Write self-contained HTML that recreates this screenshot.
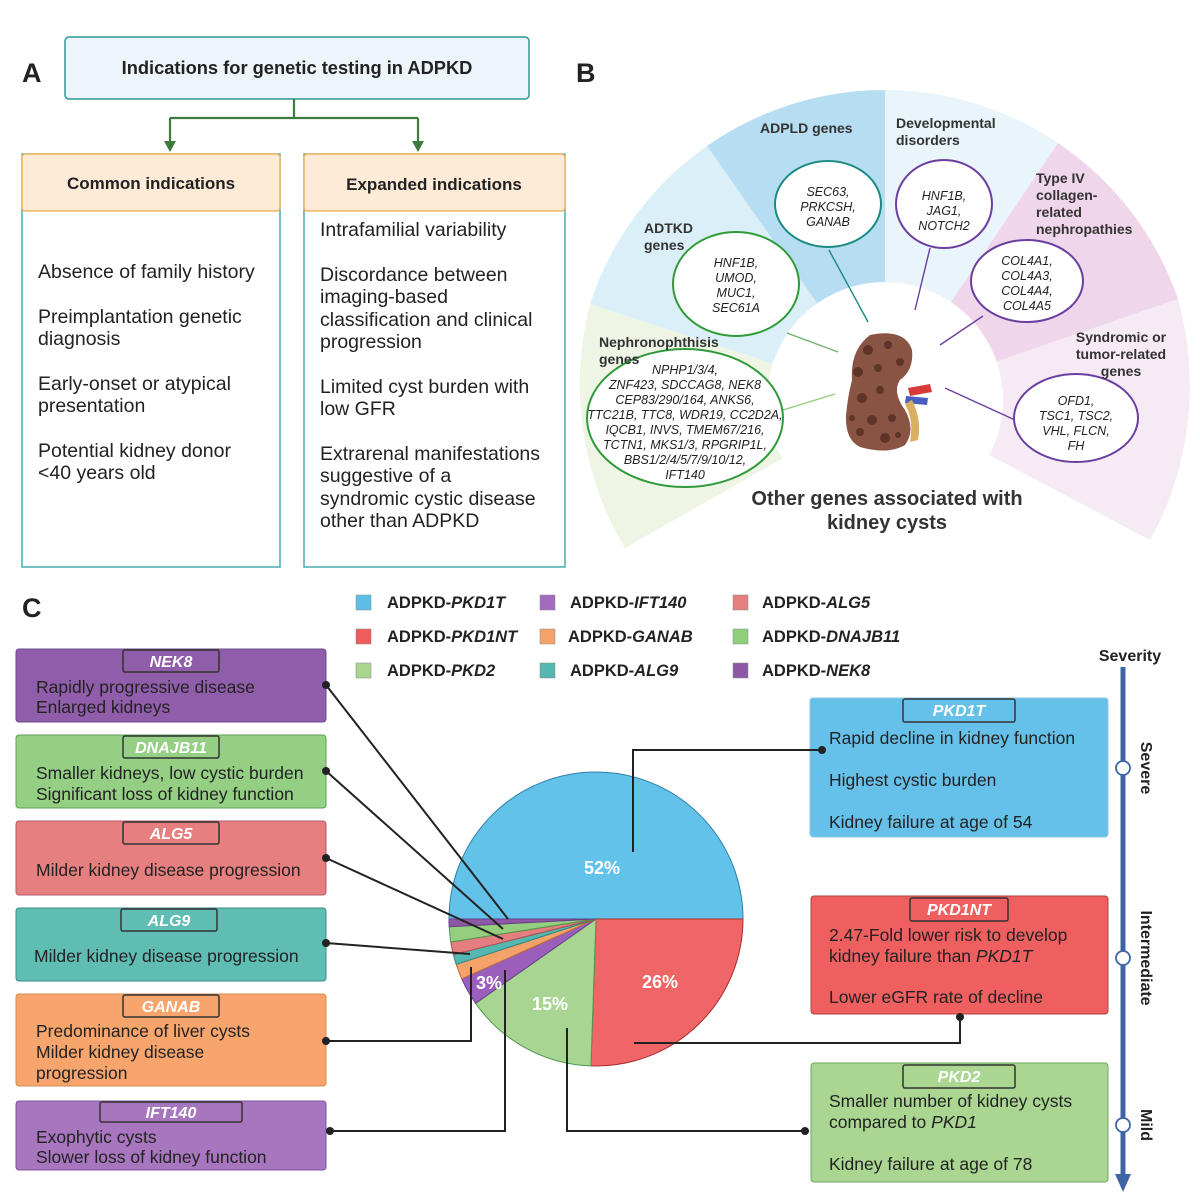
<!DOCTYPE html>
<html><head><meta charset="utf-8"><style>
html,body{margin:0;padding:0;background:#fff}
svg{display:block;font-family:"Liberation Sans",Arial,sans-serif}
.b{font-weight:bold}
.t{font-size:17.5px;fill:#222}
.a{font-size:19.5px;fill:#222}
.g{font-size:12.5px;font-style:italic;fill:#222}
.h{font-size:14px;font-weight:bold;fill:#333}
.tab{font-size:16px;font-weight:bold;font-style:italic;fill:#fff}
.lg{font-size:16.5px;font-weight:bold;fill:#222}
</style></head><body>
<svg width="1200" height="1194" viewBox="0 0 1200 1194" xmlns="http://www.w3.org/2000/svg">
<!-- Section A -->
<text x="22" y="82" font-size="27" class="b" fill="#222">A</text>
<rect x="65" y="37" width="464" height="62" rx="4" fill="#edf5fb" stroke="#2a9a8f" stroke-width="1.5"/>
<text x="297" y="74" font-size="18.3" class="b" fill="#222" text-anchor="middle">Indications for genetic testing in ADPKD</text>
<g stroke="#3c7a3f" stroke-width="2.2" fill="none">
<path d="M294,99 V118 M170,118 H418 M170,118 V142 M418,118 V142"/>
</g>
<path d="M164,141 L176,141 L170,152 Z M412,141 L424,141 L418,152 Z" fill="#3c7a3f"/>
<rect x="22" y="154" width="258" height="413" fill="#fff" stroke="#2aa0a8" stroke-width="1.3"/>
<rect x="22" y="154" width="258" height="57" rx="3" fill="#fdebd8" stroke="#f4a74a" stroke-width="1.3"/>
<text x="151" y="189" font-size="17" class="b" fill="#222" text-anchor="middle">Common indications</text>
<rect x="304" y="154" width="261" height="413" fill="#fff" stroke="#2aa0a8" stroke-width="1.3"/>
<rect x="304" y="154" width="261" height="57" rx="3" fill="#fdebd8" stroke="#f4a74a" stroke-width="1.3"/>
<text x="434" y="190" font-size="17" class="b" fill="#222" text-anchor="middle">Expanded indications</text>
<g class="a">
<text x="38" y="278">Absence of family history</text>
<text x="38" y="323">Preimplantation genetic</text>
<text x="38" y="345">diagnosis</text>
<text x="38" y="390">Early-onset or atypical</text>
<text x="38" y="412">presentation</text>
<text x="38" y="457">Potential  kidney donor</text>
<text x="38" y="479">&lt;40 years old</text>
<text x="320" y="236">Intrafamilial variability</text>
<text x="320" y="281">Discordance between</text>
<text x="320" y="303">imaging-based</text>
<text x="320" y="326">classification and clinical</text>
<text x="320" y="348">progression</text>
<text x="320" y="393">Limited cyst burden with</text>
<text x="320" y="415">low GFR</text>
<text x="320" y="460">Extrarenal manifestations</text>
<text x="320" y="482">suggestive of a</text>
<text x="320" y="505">syndromic cystic disease</text>
<text x="320" y="527">other than ADPKD</text>
</g>

<!-- Section B -->
<text x="576" y="82" font-size="27" class="b" fill="#222">B</text>
<path d="M885,400 L625,548 A300,310 0 0 1 590,304 Z" fill="#eef5e5"/>
<path d="M885,400 L590,304 A310,310 0 0 1 707,146 Z" fill="#daeff7"/>
<path d="M885,400 L707,146 A310,310 0 0 1 885,90 Z" fill="#b7ddf2"/>
<path d="M885,400 L885,90 A310,310 0 0 1 1058,143 Z" fill="#e9f4fb"/>
<path d="M885,400 L1058,143 A310,310 0 0 1 1178,299 Z" fill="#efd6ea"/>
<path d="M885,400 L1178,299 A300,310 0 0 1 1150,540 Z" fill="#f6eaf5"/>
<circle cx="885" cy="400" r="118" fill="#fff"/>
<g stroke-width="1.4" fill="none">
<line x1="829" y1="250" x2="868" y2="322" stroke="#1b8a80"/>
<line x1="930" y1="248" x2="915" y2="310" stroke="#6a3fa0"/>
<line x1="787" y1="333" x2="838" y2="352" stroke="#6fb36a"/>
<line x1="983" y1="316" x2="940" y2="345" stroke="#6a3fa0"/>
<line x1="783" y1="410" x2="835" y2="394" stroke="#8fcf7c"/>
<line x1="1015" y1="420" x2="945" y2="388" stroke="#6a3fa0"/>
</g>
<g fill="#fff" stroke-width="2">
<ellipse cx="828" cy="204" rx="53" ry="43" stroke="#1b8a80"/>
<ellipse cx="944" cy="204" rx="48" ry="44" stroke="#6a3fa0"/>
<ellipse cx="736" cy="284" rx="63" ry="52" stroke="#2f9a3a"/>
<ellipse cx="1027" cy="281" rx="56" ry="41" stroke="#6a3fa0"/>
<ellipse cx="685" cy="418" rx="98" ry="69" stroke="#2f9a3a"/>
<ellipse cx="1076" cy="418" rx="62" ry="44" stroke="#6a3fa0"/>
</g>
<!-- kidney -->
<path d="M908,388 L930,384 L932,392 L910,396 Z" fill="#d83a3a"/>
<path d="M906,396 L928,398 L927,405 L905,403 Z" fill="#4a5fc0"/>
<path d="M912,400 Q922,420 918,440 L910,442 Q914,420 905,404 Z" fill="#d9b060"/>
<path d="M870,335 Q905,328 912,350 Q914,370 900,380 Q892,392 905,410 Q916,430 905,445 Q888,455 860,447 Q845,440 846,415 Q848,395 852,380 Q850,350 870,335 Z" fill="#8a5444"/>
<g fill="#5e3328">
<circle cx="868" cy="350" r="5"/><circle cx="888" cy="345" r="4"/><circle cx="900" cy="362" r="4"/><circle cx="858" cy="372" r="5"/><circle cx="878" cy="368" r="4"/><circle cx="862" cy="398" r="5"/><circle cx="880" cy="390" r="4"/><circle cx="872" cy="420" r="5"/><circle cx="892" cy="418" r="4"/><circle cx="860" cy="432" r="4"/><circle cx="885" cy="438" r="5"/><circle cx="898" cy="435" r="3"/><circle cx="852" cy="418" r="3"/>
</g>
<g class="h">
<text x="760" y="133">ADPLD genes</text>
<text x="896" y="128">Developmental</text><text x="896" y="145">disorders</text>
<text x="644" y="233">ADTKD</text><text x="644" y="250">genes</text>
<text x="1036" y="183">Type IV</text><text x="1036" y="200">collagen-</text><text x="1036" y="217">related</text><text x="1036" y="234">nephropathies</text>
<text x="1121" y="342" text-anchor="middle">Syndromic or</text><text x="1121" y="359" text-anchor="middle">tumor-related</text><text x="1121" y="376" text-anchor="middle">genes</text>
<text x="599" y="347">Nephronophthisis</text><text x="599" y="364">genes</text>
</g>
<g class="g" text-anchor="middle">
<text x="828" y="196">SEC63,</text><text x="828" y="211">PRKCSH,</text><text x="828" y="226">GANAB</text>
<text x="944" y="200">HNF1B,</text><text x="944" y="215">JAG1,</text><text x="944" y="230">NOTCH2</text>
<text x="736" y="267">HNF1B,</text><text x="736" y="282">UMOD,</text><text x="736" y="297">MUC1,</text><text x="736" y="312">SEC61A</text>
<text x="1027" y="265">COL4A1,</text><text x="1027" y="280">COL4A3,</text><text x="1027" y="295">COL4A4,</text><text x="1027" y="310">COL4A5</text>
<text x="1076" y="405">OFD1,</text><text x="1076" y="420">TSC1, TSC2,</text><text x="1076" y="435">VHL, FLCN,</text><text x="1076" y="450">FH</text>
<text x="685" y="374">NPHP1/3/4,</text><text x="685" y="389">ZNF423, SDCCAG8, NEK8</text><text x="685" y="404">CEP83/290/164,  ANKS6,</text><text x="685" y="419">TTC21B, TTC8, WDR19, CC2D2A,</text><text x="685" y="434">IQCB1, INVS, TMEM67/216,</text><text x="685" y="449">TCTN1,  MKS1/3, RPGRIP1L,</text><text x="685" y="464">BBS1/2/4/5/7/9/10/12,</text><text x="685" y="479">IFT140</text>
</g>
<text x="887" y="505" font-size="20" class="b" fill="#333" text-anchor="middle">Other genes associated with</text>
<text x="887" y="529" font-size="20" class="b" fill="#333" text-anchor="middle">kidney cysts</text>

<!-- Section C -->
<text x="22" y="617" font-size="27" class="b" fill="#222">C</text>
<g stroke="#888" stroke-width="0.5">
<rect x="356" y="595" width="15" height="15" fill="#5bbde8"/>
<rect x="356" y="629" width="15" height="15" fill="#ef5c5c"/>
<rect x="356" y="663" width="15" height="15" fill="#a8d68f"/>
<rect x="540" y="595" width="15" height="15" fill="#a36bc0"/>
<rect x="540" y="629" width="15" height="15" fill="#f5a26a"/>
<rect x="540" y="663" width="15" height="15" fill="#55b8b0"/>
<rect x="733" y="595" width="15" height="15" fill="#e57f7f"/>
<rect x="733" y="629" width="15" height="15" fill="#8fcf7c"/>
<rect x="733" y="663" width="15" height="15" fill="#8d58a6"/>
</g>
<g class="lg">
<text x="387" y="608">ADPKD-<tspan font-style="italic">PKD1T</tspan></text>
<text x="387" y="642">ADPKD-<tspan font-style="italic">PKD1NT</tspan></text>
<text x="387" y="676">ADPKD-<tspan font-style="italic">PKD2</tspan></text>
<text x="570" y="608">ADPKD-<tspan font-style="italic">IFT140</tspan></text>
<text x="568" y="642">ADPKD-<tspan font-style="italic">GANAB</tspan></text>
<text x="570" y="676">ADPKD-<tspan font-style="italic">ALG9</tspan></text>
<text x="762" y="608">ADPKD-<tspan font-style="italic">ALG5</tspan></text>
<text x="762" y="642">ADPKD-<tspan font-style="italic">DNAJB11</tspan></text>
<text x="762" y="676">ADPKD-<tspan font-style="italic">NEK8</tspan></text>
</g>

<!-- pie -->
<g stroke-width="1">
<path d="M596,919 L449,919 A147,147 0 0 1 743,919 Z" fill="#63c2ea" stroke="#2c7fa8"/>
<path d="M596,919 L743,919 A147,147 0 0 1 590.9,1065.9 Z" fill="#f06565" stroke="#a83030"/>
<path d="M596,919 L590.9,1065.9 A147,147 0 0 1 475.6,1003.3 Z" fill="#a8d692" stroke="#4c9a4c"/>
<path d="M596,919 L475.6,1003.3 A147,147 0 0 1 461.7,978.8 Z" fill="#9b5fbb" stroke="#6a3f8a"/>
<path d="M596,919 L461.7,978.8 A147,147 0 0 1 456.2,964.4 Z" fill="#f5a26a" stroke="#c07030"/>
<path d="M596,919 L456.2,964.4 A147,147 0 0 1 453.4,954.6 Z" fill="#55b8b0" stroke="#2c8a84"/>
<path d="M596,919 L453.4,954.6 A147,147 0 0 1 450.8,942 Z" fill="#e57f7f" stroke="#b04c4c"/>
<path d="M596,919 L450.8,942 A147,147 0 0 1 449.2,926.7 Z" fill="#96ce80" stroke="#4c9a4c"/>
<path d="M596,919 L449.2,926.7 A147,147 0 0 1 449,919 Z" fill="#8d58a6" stroke="#6a3f8a"/>
</g>
<g font-size="18" class="b" fill="#fff" text-anchor="middle">
<text x="602" y="874">52%</text><text x="660" y="988">26%</text><text x="550" y="1010">15%</text><text x="489" y="989">3%</text>
</g>

<!-- left boxes -->
<g stroke-width="1">
<rect x="16" y="649" width="310" height="73" rx="3" fill="#8f5da9" stroke="#6d4a8a"/>
<rect x="16" y="735" width="310" height="73" rx="3" fill="#94cf84" stroke="#5f9f5a"/>
<rect x="16" y="821" width="310" height="74" rx="3" fill="#e57f80" stroke="#b75a6a"/>
<rect x="16" y="908" width="310" height="73" rx="3" fill="#5fbdb4" stroke="#3a8a8a"/>
<rect x="16" y="994" width="310" height="92" rx="3" fill="#f7a56d" stroke="#d58a50"/>
<rect x="16" y="1101" width="310" height="69" rx="3" fill="#a776bf" stroke="#7d559a"/>
</g>
<g fill="none" stroke="#333" stroke-width="1.5">
<rect x="123" y="650" width="96" height="22" rx="2"/>
<rect x="123" y="736" width="96" height="22" rx="2"/>
<rect x="123" y="822" width="96" height="22" rx="2"/>
<rect x="121" y="909" width="96" height="22" rx="2"/>
<rect x="123" y="995" width="96" height="22" rx="2"/>
<rect x="100" y="1102" width="142" height="20" rx="2"/>
</g>
<g class="tab" text-anchor="middle">
<text x="171" y="667">NEK8</text><text x="171" y="753">DNAJB11</text><text x="171" y="839">ALG5</text><text x="169" y="926">ALG9</text><text x="171" y="1012">GANAB</text><text x="171" y="1118">IFT140</text>
</g>
<g class="t" font-size="17">
<text x="36" y="693">Rapidly progressive disease</text><text x="36" y="713">Enlarged kidneys</text>
<text x="36" y="779">Smaller kidneys, low cystic burden</text><text x="36" y="800">Significant loss of kidney function</text>
<text x="36" y="876">Milder kidney disease progression</text>
<text x="34" y="962">Milder kidney disease progression</text>
<text x="36" y="1037">Predominance of liver cysts</text><text x="36" y="1058">Milder kidney disease</text><text x="36" y="1079">progression</text>
<text x="36" y="1143">Exophytic cysts</text><text x="36" y="1163">Slower loss of kidney function</text>
</g>

<!-- right boxes -->
<rect x="810" y="698" width="298" height="139" rx="3" fill="#65c1ea" stroke="#8fc8e0"/>
<rect x="811" y="896" width="297" height="118" rx="3" fill="#ef5f5f" stroke="#b04040"/>
<rect x="811" y="1063" width="297" height="119" rx="3" fill="#aad691" stroke="#6fa860"/>
<g fill="none" stroke="#333" stroke-width="1.5">
<rect x="903" y="699" width="112" height="23" rx="2"/>
<rect x="910" y="898" width="98" height="23" rx="2"/>
<rect x="903" y="1065" width="112" height="23" rx="2"/>
</g>
<g class="tab" text-anchor="middle">
<text x="959" y="716">PKD1T</text><text x="959" y="915">PKD1NT</text><text x="959" y="1082">PKD2</text>
</g>
<g class="t" font-size="17">
<text x="829" y="744">Rapid decline in kidney function</text><text x="829" y="786">Highest cystic burden</text><text x="829" y="828">Kidney failure at age of 54</text>
<text x="829" y="941">2.47-Fold lower risk to develop</text><text x="829" y="962">kidney failure  than <tspan font-style="italic">PKD1T</tspan></text><text x="829" y="1003">Lower eGFR rate of decline</text>
<text x="829" y="1107">Smaller number of kidney cysts</text><text x="829" y="1128">compared to <tspan font-style="italic">PKD1</tspan></text><text x="829" y="1170">Kidney failure at age of 78</text>
</g>

<!-- connectors -->
<g stroke="#222" stroke-width="2" fill="none">
<path d="M326,685 L508,919"/>
<path d="M326,771 L503,929"/>
<path d="M326,858 L503,939"/>
<path d="M326,943 L470,954"/>
<path d="M326,1041 H471 V967"/>
<path d="M330,1131 H505 V970"/>
<path d="M805,1131 H567 V1028"/>
<path d="M634,1043 H960 V1017"/>
<path d="M822,750 H633 V852"/>
</g>
<g fill="#222">
<circle cx="326" cy="685" r="4"/><circle cx="326" cy="771" r="4"/><circle cx="326" cy="858" r="4"/><circle cx="326" cy="943" r="4"/><circle cx="326" cy="1041" r="4"/><circle cx="330" cy="1131" r="4"/><circle cx="805" cy="1131" r="4"/><circle cx="960" cy="1017" r="4"/><circle cx="822" cy="750" r="4"/>
</g>

<!-- severity -->
<text x="1130" y="661" font-size="16" class="b" fill="#222" text-anchor="middle">Severity</text>
<line x1="1123" y1="667" x2="1123" y2="1178" stroke="#3f64a6" stroke-width="5"/>
<path d="M1115,1174 L1131,1174 L1123,1192 Z" fill="#3f64a6"/>
<g fill="#fff" stroke="#3f64a6" stroke-width="1.8">
<circle cx="1123" cy="768" r="7"/><circle cx="1123" cy="958" r="7"/><circle cx="1123" cy="1125" r="7"/>
</g>
<g font-size="16" class="b" fill="#222" text-anchor="middle">
<text transform="translate(1141,768) rotate(90)">Severe</text>
<text transform="translate(1141,958) rotate(90)">Intermediate</text>
<text transform="translate(1141,1125) rotate(90)">Mild</text>
</g>
</svg>
</body></html>
